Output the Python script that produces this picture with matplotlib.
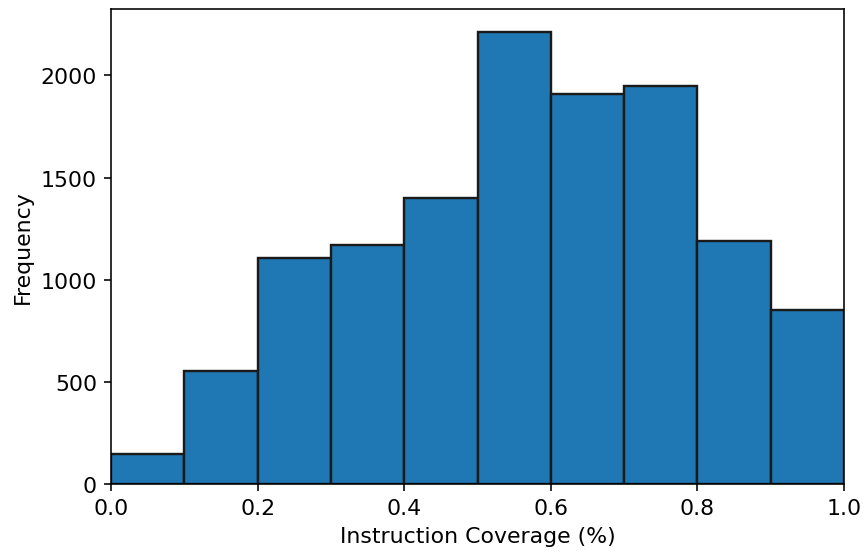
import matplotlib
matplotlib.use("Agg")
import matplotlib.pyplot as plt
import numpy as np

# Binned instruction coverage: 10 equal-width bins over [0, 1]
bin_edges = [0.0, 0.1, 0.2, 0.3, 0.4, 0.5, 0.6, 0.7, 0.8, 0.9, 1.0]
counts = [146, 551, 1105, 1170, 1400, 2214, 1910, 1949, 1187, 854]

plt.rcParams['font.size'] = 11

fig = plt.figure(figsize=(6.0, 3.854), dpi=144)
ax = fig.add_axes([111 / 864, 70 / 555, 733 / 864, 475 / 555])

# Rebuild the histogram from the bin counts
ax.hist(bin_edges[:-1], bins=bin_edges, weights=counts,
        color='#1f77b4', edgecolor='#1a1a1a', linewidth=1.2)

ax.set_xlim(0, 1)
ax.set_xlabel('Instruction Coverage (%)')
ax.set_ylabel('Frequency')

fig.savefig('out.png', dpi=144)
